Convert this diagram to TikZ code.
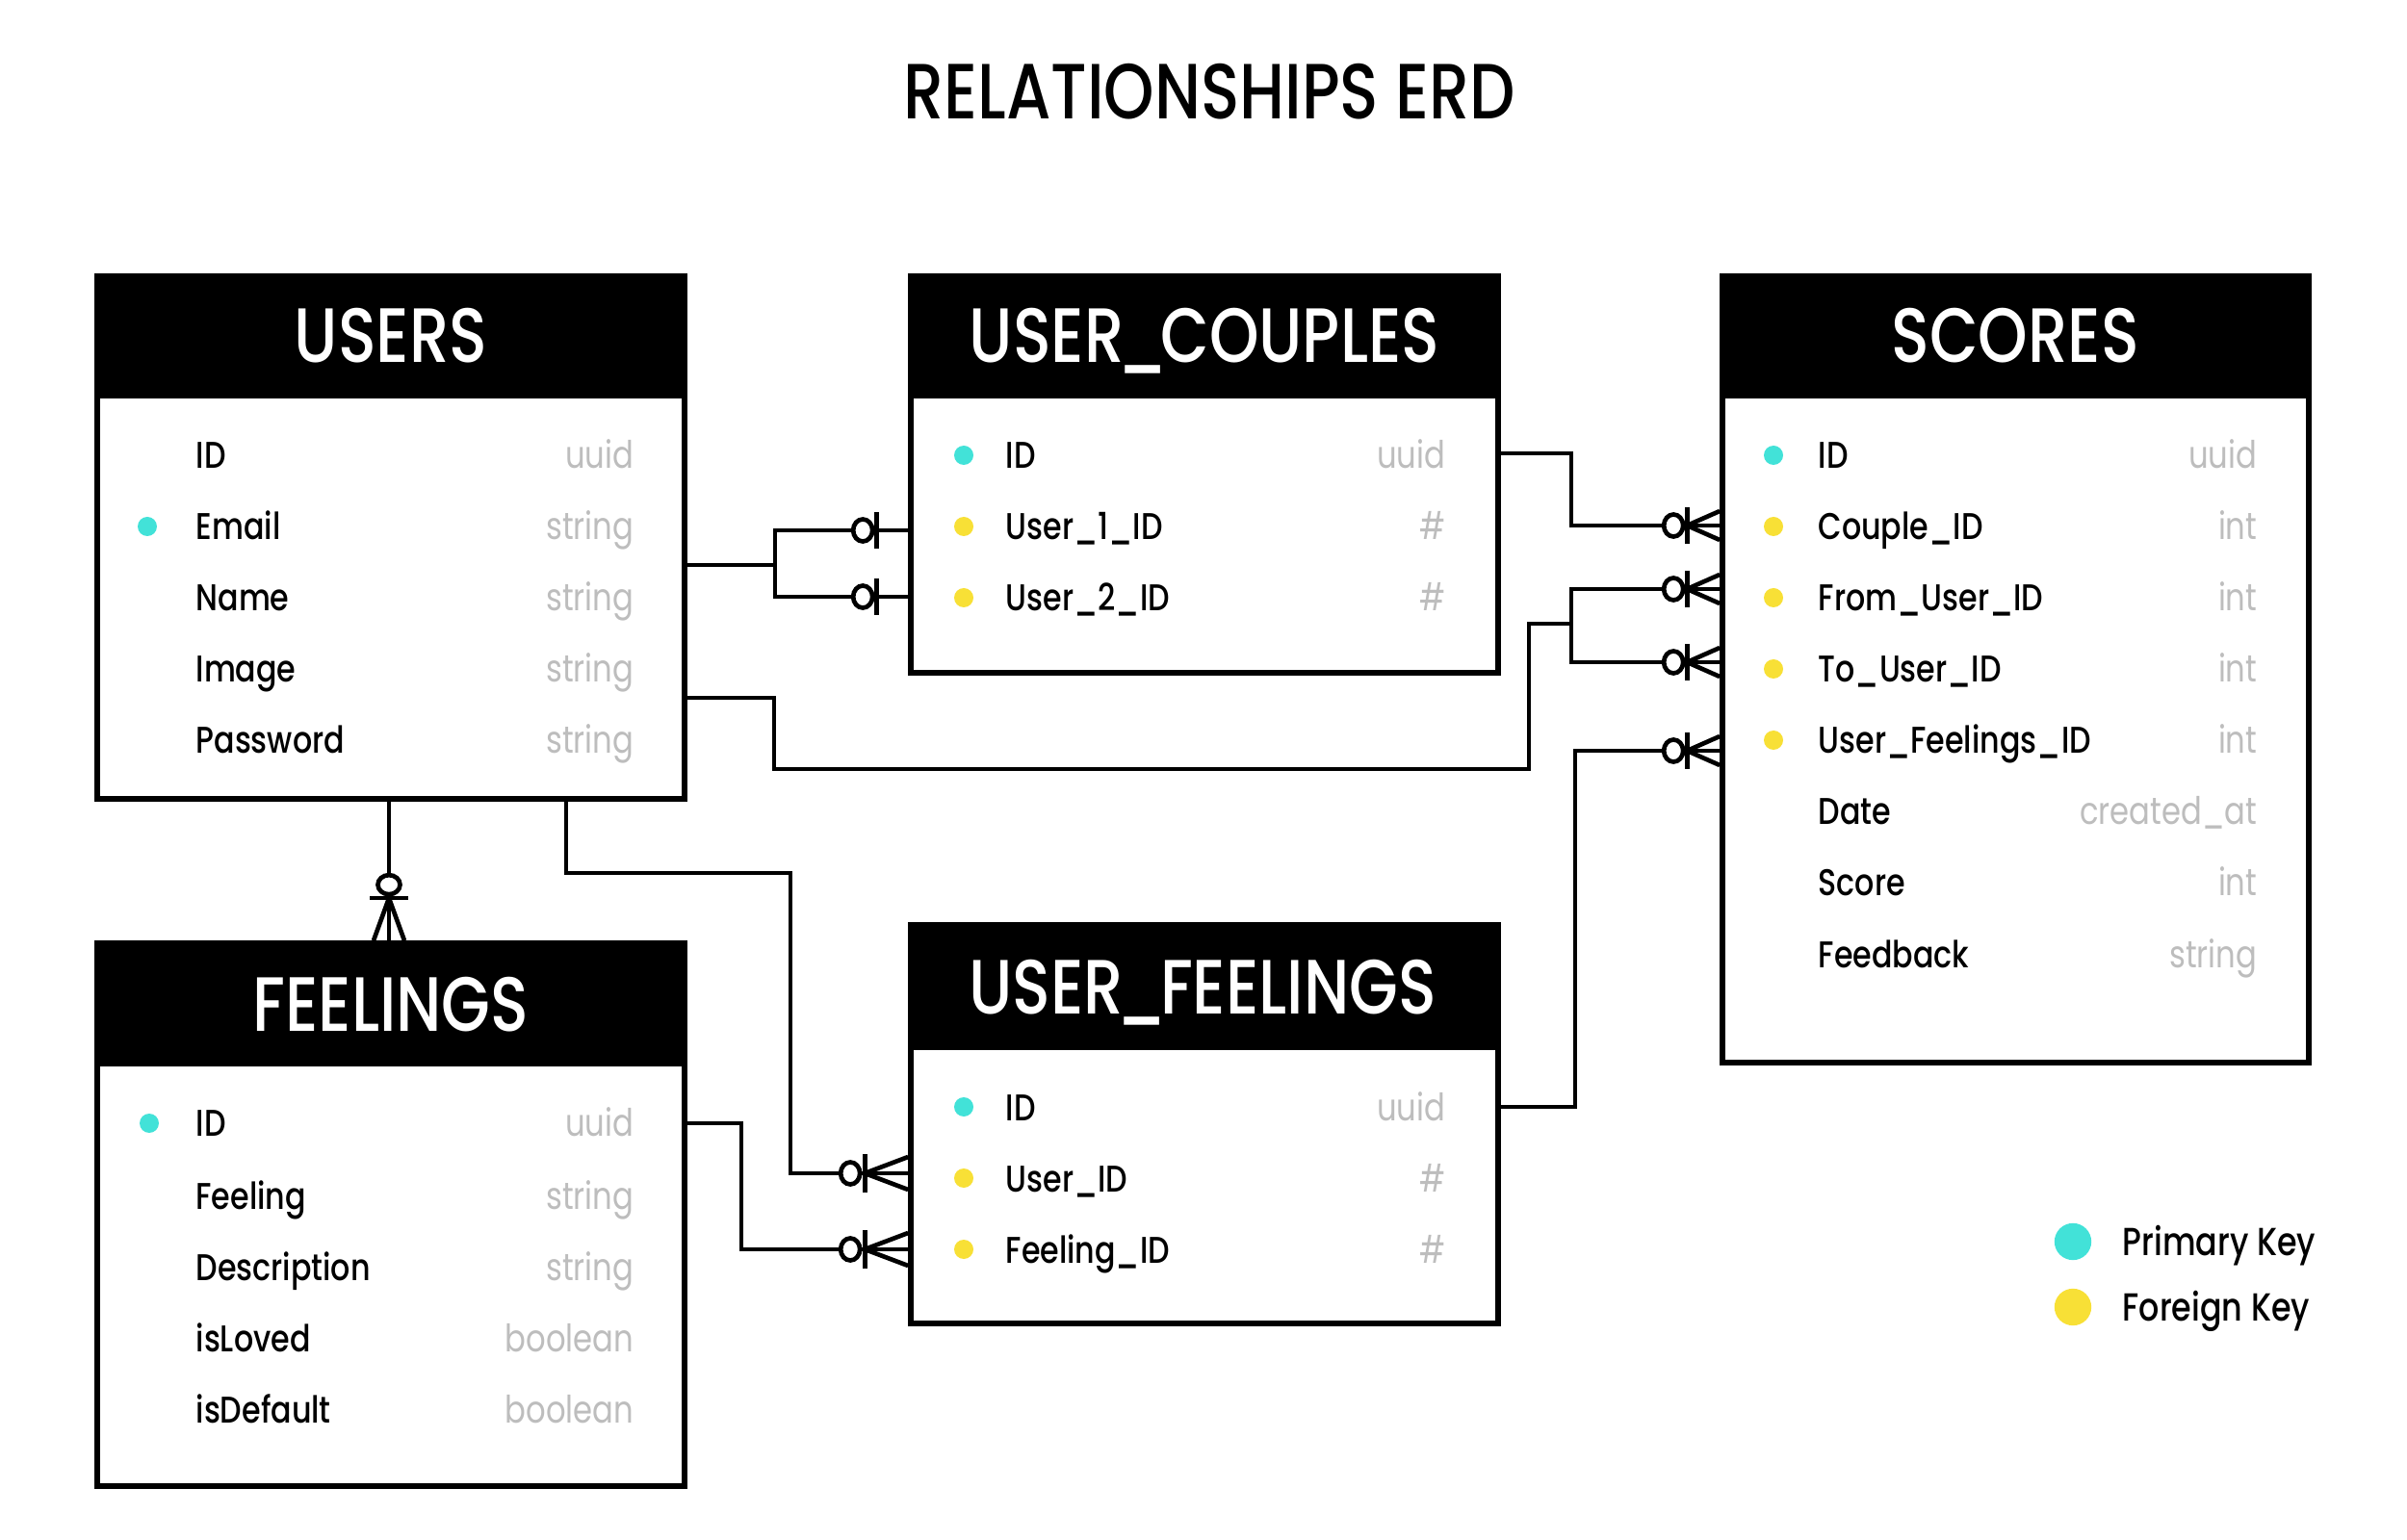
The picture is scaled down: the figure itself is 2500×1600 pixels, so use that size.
\documentclass[tikz,border=0pt]{standalone}
\usepackage{fontspec}
\setmainfont{Poppins}[FakeStretch=0.82, UprightFont={* Medium}]
\newfontfamily\typefamily{Poppins}[FakeStretch=0.82]
\usetikzlibrary{fit,calc}
\definecolor{pkcol}{HTML}{42E2D8}
\definecolor{fkcol}{HTML}{F8E036}
\definecolor{typegray}{HTML}{BDBDBD}
\newcommand\titlefont{\fontsize{24.4}{29}\selectfont}
\newcommand\headfont{\fontsize{24}{29}\selectfont}
\newcommand\rowfont{\fontsize{11.6}{14}\selectfont}
\newcommand\typfont{\typefamily\fontsize{11.8}{14}\selectfont}
\newcommand\legfont{\fontsize{12.2}{15}\selectfont}
\newcommand\hus{\kern-0.09em\_\kern-0.09em}
% crow's foot (zero or many) entering a box from the left
\newcommand\crowW[5]{%
  \draw[conn] ($(#1)+(-#3,0)$) -- ($(#1)+(0,-#4)$) ($(#1)+(-#3,0)$) -- ($(#1)+(0,#4)$);
  \draw[conn] ($(#1)+(-#3,-#5)$) -- ($(#1)+(-#3,#5)$);
  \draw[conn,fill=white] ($(#1)+(-#2,0)$) circle[x radius=10, y radius=11.5];
}
% zero or one entering a box from the left
\newcommand\oneW[4]{%
  \draw[conn] ($(#1)+(-#3,-#4)$) -- ($(#1)+(-#3,#4)$);
  \draw[conn,fill=white] ($(#1)+(-#2,0)$) circle[x radius=10, y radius=11.5];
}
% crow's foot entering a box from the top
\newcommand\crowN[5]{%
  \draw[conn] ($(#1)+(0,-#3)$) -- ($(#1)+(-#4,0)$) ($(#1)+(0,-#3)$) -- ($(#1)+(#4,0)$);
  \draw[conn] ($(#1)+(-#5,-#3)$) -- ($(#1)+(#5,-#3)$);
  \draw[conn,fill=white] ($(#1)+(0,-#2)$) circle[x radius=11.5, y radius=10];
}
\tikzset{
  tbox/.style={draw=black, line width=1.7pt, fill=white, inner sep=0pt},
  thead/.style={draw=black, fill=black, line width=1.7pt, inner sep=0pt},
  htext/.style={anchor=base, inner sep=0pt, text=white, font=\headfont},
  lbl/.style={anchor=base west, inner sep=0pt, font=\rowfont},
  typ/.style={anchor=base east, inner sep=0pt, font=\typfont, text=typegray},
  pk/.style={circle, fill=pkcol, inner sep=0pt, minimum size=6pt},
  fk/.style={circle, fill=fkcol, inner sep=0pt, minimum size=6pt},
  conn/.style={draw=black, line width=1.4pt, line join=miter},
}
\begin{document}
\begin{tikzpicture}[x=0.3pt, y=-0.3pt]
\useasboundingbox (0,0) rectangle (2500,1600);

% title
\node[anchor=base, inner sep=0pt, font=\titlefont] (title) at (1256,124) {RELATIONSHIPS ERD};

% ---------- USERS ----------
\node[tbox, fit={(101,287) (711,830)}] (users) {};
\node[thead, fit={(101,287) (711,411)}] (usersH) {};
\node[htext] (usersT) at (406,377) {USERS};
\node[lbl] (u1) at (203,487) {ID};           \node[typ] (u1t) at (659,487) {uuid};
\node[pk] (u2d) at (153,547) {};
\node[lbl] (u2) at (203,561) {Email};        \node[typ] (u2t) at (659,561) {string};
\node[lbl] (u3) at (203,635) {Name};         \node[typ] (u3t) at (659,635) {string};
\node[lbl] (u4) at (203,709) {Image};        \node[typ] (u4t) at (659,709) {string};
\node[lbl] (u5) at (203,783) {Password};     \node[typ] (u5t) at (659,783) {string};

% ---------- USER_COUPLES ----------
\node[tbox, fit={(946,287) (1556,699)}] (uc) {};
\node[thead, fit={(946,287) (1556,411)}] (ucH) {};
\node[htext] (ucT) at (1251,377) {USER\hus COUPLES};
\node[pk] (c1d) at (1001,473) {};
\node[lbl] (c1) at (1044,487) {ID};          \node[typ] (c1t) at (1502,487) {uuid};
\node[fk] (c2d) at (1001,547) {};
\node[lbl] (c2) at (1044,561) {User\_1\_ID}; \node[typ] (c2t) at (1502,561) {\#};
\node[fk] (c3d) at (1001,621) {};
\node[lbl] (c3) at (1044,635) {User\_2\_ID}; \node[typ] (c3t) at (1502,635) {\#};

% ---------- SCORES ----------
\node[tbox, fit={(1789,287) (2398,1104)}] (scores) {};
\node[thead, fit={(1789,287) (2398,411)}] (scoresH) {};
\node[htext] (scoresT) at (2093,377) {SCORES};
\node[pk] (s1d) at (1842,473) {};
\node[lbl] (s1) at (1888,487) {ID};                 \node[typ] (s1t) at (2345,487) {uuid};
\node[fk] (s2d) at (1842,547) {};
\node[lbl] (s2) at (1888,561) {Couple\_ID};         \node[typ] (s2t) at (2345,561) {int};
\node[fk] (s3d) at (1842,621) {};
\node[lbl] (s3) at (1888,635) {From\_User\_ID};     \node[typ] (s3t) at (2345,635) {int};
\node[fk] (s4d) at (1842,695) {};
\node[lbl] (s4) at (1888,709) {To\_User\_ID};       \node[typ] (s4t) at (2345,709) {int};
\node[fk] (s5d) at (1842,769) {};
\node[lbl] (s5) at (1888,783) {User\_Feelings\_ID}; \node[typ] (s5t) at (2345,783) {int};
\node[lbl] (s6) at (1888,857) {Date};               \node[typ] (s6t) at (2345,857) {created\_at};
\node[lbl] (s7) at (1888,931) {Score};              \node[typ] (s7t) at (2345,931) {int};
\node[lbl] (s8) at (1888,1005) {Feedback};          \node[typ] (s8t) at (2345,1005) {string};

% ---------- FEELINGS ----------
\node[tbox, fit={(101,980) (711,1544)}] (feel) {};
\node[thead, fit={(101,980) (711,1105)}] (feelH) {};
\node[htext] (feelT) at (406,1071) {FEELINGS};
\node[pk] (f1d) at (155,1167) {};
\node[lbl] (f1) at (203,1181) {ID};           \node[typ] (f1t) at (659,1181) {uuid};
\node[lbl] (f2) at (203,1256) {Feeling};      \node[typ] (f2t) at (659,1256) {string};
\node[lbl] (f3) at (203,1330) {Description};  \node[typ] (f3t) at (659,1330) {string};
\node[lbl] (f4) at (203,1404) {isLoved};      \node[typ] (f4t) at (659,1404) {boolean};
\node[lbl] (f5) at (203,1478) {isDefault};    \node[typ] (f5t) at (659,1478) {boolean};

% ---------- USER_FEELINGS ----------
\node[tbox, fit={(946,961) (1556,1375)}] (uf) {};
\node[thead, fit={(946,961) (1556,1088)}] (ufH) {};
\node[htext] (ufT) at (1249,1053) {USER\hus FEELINGS};
\node[pk] (g1d) at (1001,1150) {};
\node[lbl] (g1) at (1044,1164) {ID};           \node[typ] (g1t) at (1502,1164) {uuid};
\node[fk] (g2d) at (1001,1224) {};
\node[lbl] (g2) at (1044,1238) {User\_ID};     \node[typ] (g2t) at (1502,1238) {\#};
\node[fk] (g3d) at (1001,1298) {};
\node[lbl] (g3) at (1044,1312) {Feeling\_ID};  \node[typ] (g3t) at (1502,1312) {\#};

% ---------- legend ----------
\node[circle, fill=pkcol, inner sep=0pt, minimum size=11.5pt] (lpk) at (2153,1290) {};
\node[anchor=base west, inner sep=0pt, font=\legfont] (lpkT) at (2204,1304) {Primary Key};
\node[circle, fill=fkcol, inner sep=0pt, minimum size=11.5pt] (lfk) at (2153,1358) {};
\node[anchor=base west, inner sep=0pt, font=\legfont] (lfkT) at (2204,1372) {Foreign Key};

% ---------- connector end points ----------
\coordinate (e1) at (uc.west |- 0,551);
\coordinate (e2) at (uc.west |- 0,620);
\coordinate (e3) at (scores.west |- 0,546);
\coordinate (e4) at (scores.west |- 0,612);
\coordinate (e5) at (scores.west |- 0,688);
\coordinate (e6) at (scores.west |- 0,780);
\coordinate (e7) at (uf.west |- 0,1219);
\coordinate (e8) at (uf.west |- 0,1298);
\coordinate (e9) at (feel.north -| 404,0);
\coordinate (j1) at (805,587);
\coordinate (j3) at (1588,648);

% USERS -> USER_COUPLES
\draw[conn] (users.east |- j1) -- (j1);
\draw[conn] (e1) -| (j1) |- (e2);
% USER_COUPLES -> SCORES
\draw[conn] (uc.east |- 0,471) -| (1632,546) -- (e3);
% USERS -> SCORES (from / to)
\draw[conn] (users.east |- 0,725) -- (804,725) -- (804,799) -- (1588,799) -- (j3) -- (1632,648);
\draw[conn] (e4) -| (1632,688) -- (e5);
% USER_FEELINGS -> SCORES
\draw[conn] (uf.east |- 0,1150) -| (1636,780) -- (e6);
% USERS -> USER_FEELINGS
\draw[conn] (users.south -| 588,0) -- (588,907) -| (821,1219) -- (e7);
% FEELINGS -> USER_FEELINGS
\draw[conn] (feel.east |- 0,1167) -| (770,1298) -- (e8);
% USERS -> FEELINGS
\draw[conn] (users.south -| 404,0) -- (e9);

% end symbols
\oneW{e1}{47}{33}{19}
\oneW{e2}{47}{33}{19}
\crowW{e3}{48}{34}{15}{19}
\crowW{e4}{48}{34}{15}{19}
\crowW{e5}{48}{34}{15}{19}
\crowW{e6}{48}{34}{15}{19}
\crowW{e7}{60}{45}{17}{20}
\crowW{e8}{60}{45}{17}{20}
\crowN{e9}{58}{44}{16}{20}
\end{tikzpicture}
\end{document}
